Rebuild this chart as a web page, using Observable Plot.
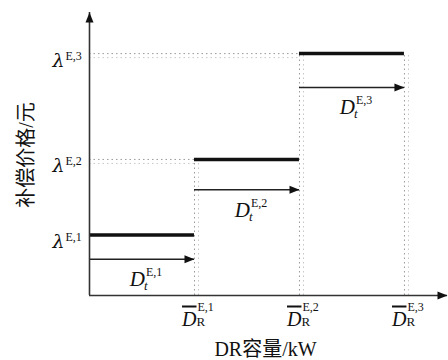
<!DOCTYPE html>
<html>
<head>
<meta charset="utf-8">
<script src="https://cdn.jsdelivr.net/npm/d3@7"></script>
<script src="https://cdn.jsdelivr.net/npm/@observablehq/plot@0.6"></script>
<style>
  body { margin: 0; background: #fff; }
  g[aria-description="capacity-bar"] text { text-decoration: overline; }
</style>
</head>
<body>
<div id="chart"></div>
<script>
// Tiered demand-response compensation: price steps up with contracted capacity.
const tiers = ["E,1", "E,2", "E,3"];      // tier superscripts
const capacity = [1, 2, 3];               // upper capacity bound of each tier, D̄_R^{E,k}
const price = [1, 2.25, 4];               // compensation price of each tier, λ^{E,k}
const arrowLevel = [0.6, 1.75, 3.44];     // height of each D_t^{E,k} arrow
const xMax = 3.41;
const yMax = 4.68;
const xTitle = "DR容量/kW";
const yTitle = "补偿价格/元";

const rows = tiers.map((name, i) => ({
  name,
  x0: i ? capacity[i - 1] : 0,
  x1: capacity[i],
  xm: ((i ? capacity[i - 1] : 0) + capacity[i]) / 2,
  price: price[i],
  arrow: arrowLevel[i],
  guideTop: price[Math.min(i + 1, tiers.length - 1)]
}));

// filled arrowheads, tip at the anchor point
const headRight = {draw(ctx) { ctx.moveTo(0, 0); ctx.lineTo(-10, -4); ctx.lineTo(-10, 4); ctx.closePath(); }};
const headUp = {draw(ctx) { ctx.moveTo(0, 0); ctx.lineTo(-4, 10); ctx.lineTo(4, 10); ctx.closePath(); }};

const serif = "Liberation Serif";
const greek = "DejaVu Serif";
const mixed = "'Liberation Serif', 'Noto Sans CJK SC', serif";
const guide = {stroke: "#9a9a9a", strokeDasharray: "1.5,3", strokeWidth: 1};
const guide2 = {stroke: "#c8c8c8", strokeDasharray: "1.5,3", strokeWidth: 1};

const chart = Plot.plot({
  width: 448,
  height: 360,
  marginLeft: 89,
  marginRight: 1,
  marginTop: 12,
  marginBottom: 65,
  style: {fontFamily: mixed, background: "#fff", color: "#111"},
  x: {domain: [0, xMax], axis: null},
  y: {domain: [0, yMax], axis: null},
  marks: [
    // dotted guides from the price axis to each step
    Plot.ruleY(rows.filter(d => d.x0 > 0), {y: "price", x1: 0, x2: "x0", ...guide}),
    Plot.ruleY(rows.filter(d => d.x0 > 0), {y: "price", x1: 0, x2: "x0", dy: 4, ...guide2}),
    // dotted guides up from each capacity bound
    Plot.ruleX(rows, {x: "x1", y1: 0, y2: "guideTop", ...guide}),
    Plot.ruleX(rows, {x: "x1", y1: 0, y2: "guideTop", dx: 4, ...guide2}),
    // price steps
    Plot.ruleY(rows, {y: "price", x1: "x0", x2: "x1", stroke: "#111", strokeWidth: 3.5}),
    // capacity arrows
    Plot.ruleY(rows, {y: "arrow", x1: "x0", x2: "x1", stroke: "#222", strokeWidth: 1.5}),
    Plot.dot(rows, {x: "x1", y: "arrow", symbol: headRight, fill: "#111", stroke: null}),
    // axes with arrowheads
    Plot.ruleX([{x: 0, y1: 0, y2: yMax}], {x: "x", y1: "y1", y2: "y2", stroke: "#333", strokeWidth: 1.6}),
    Plot.ruleY([{y: 0, x1: 0, x2: xMax}], {y: "y", x1: "x1", x2: "x2", stroke: "#333", strokeWidth: 1.6}),
    Plot.dot([{x: 0, y: yMax}], {x: "x", y: "y", symbol: headUp, fill: "#111", stroke: null}),
    Plot.dot([{x: xMax, y: 0}], {x: "x", y: "y", symbol: headRight, fill: "#111", stroke: null}),
    // price tick labels λ^{E,k}
    Plot.text(rows, {y: "price", frameAnchor: "left", text: () => "λ", textAnchor: "end", lineAnchor: "bottom",
      dx: -25, dy: 13, fontSize: 19, fontStyle: "italic", fontFamily: greek, fill: "#111"}),
    Plot.text(rows, {y: "price", frameAnchor: "left", text: "name", textAnchor: "start", lineAnchor: "bottom",
      dx: -24, dy: 6, fontSize: 12, fontFamily: serif, fill: "#111"}),
    // arrow labels D_t^{E,k}
    Plot.text(rows, {x: "xm", y: "arrow", text: () => "D", textAnchor: "end", lineAnchor: "bottom",
      dx: 3, dy: 27, fontSize: 21, fontStyle: "italic", fontFamily: serif, fill: "#111"}),
    Plot.text(rows, {x: "xm", y: "arrow", text: "name", textAnchor: "start", lineAnchor: "bottom",
      dx: 4, dy: 17, fontSize: 12, fontFamily: serif, fill: "#111"}),
    Plot.text(rows, {x: "xm", y: "arrow", text: () => "t", textAnchor: "start", lineAnchor: "bottom",
      dx: 2, dy: 31, fontSize: 13, fontStyle: "italic", fontFamily: serif, fill: "#111"}),
    // capacity tick labels D̄_R^{E,k}
    Plot.text(rows, {x: "x1", frameAnchor: "bottom", text: () => "D", textAnchor: "end", lineAnchor: "bottom",
      dx: 2, dy: 30, fontSize: 20, fontStyle: "italic", fontFamily: serif, fill: "#111", ariaDescription: "capacity-bar"}),
    Plot.text(rows, {x: "x1", frameAnchor: "bottom", text: "name", textAnchor: "start", lineAnchor: "bottom",
      dx: 3, dy: 15, fontSize: 12, fontFamily: serif, fill: "#111"}),
    Plot.text(rows, {x: "x1", frameAnchor: "bottom", text: () => "R", textAnchor: "start", lineAnchor: "bottom",
      dx: 2, dy: 30, fontSize: 13, fontFamily: serif, fill: "#111"}),
    // axis titles
    Plot.text([xTitle], {frameAnchor: "bottom", text: d => d, textAnchor: "middle", lineAnchor: "bottom",
      dx: -3, dy: 60, fontSize: 20, fill: "#111"}),
    Plot.text([yTitle], {frameAnchor: "left", text: d => d, textAnchor: "middle", lineAnchor: "middle",
      rotate: -90, dx: -63, dy: 1, fontSize: 20, fill: "#111"})
  ]
});

// overline the capacity-bound symbols
chart.querySelectorAll('g[aria-description="capacity-bar"] text').forEach(t => {
  t.setAttribute("text-decoration", "overline");
  t.style.textDecoration = "overline";
});

document.getElementById("chart").appendChild(chart);
</script>
</body>
</html>
